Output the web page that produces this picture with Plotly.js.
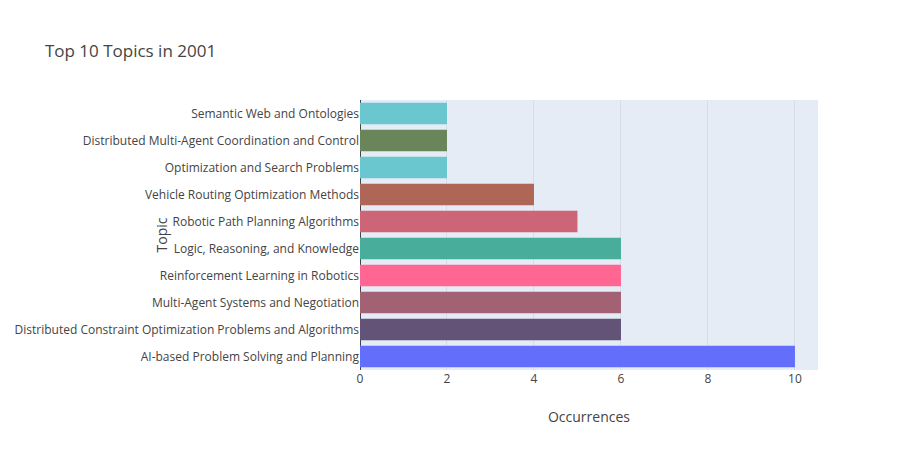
<!DOCTYPE html>
<html>
<head>
<meta charset="utf-8">
<script src="https://cdn.plot.ly/plotly-3.0.1.min.js"></script>
</head>
<body style="margin:0">
<div id="chart" style="width:898px;height:450px"></div>
<script>
const topics = [
    "AI-based Problem Solving and Planning",
    "Distributed Constraint Optimization Problems and Algorithms",
    "Multi-Agent Systems and Negotiation",
    "Reinforcement Learning in Robotics",
    "Logic, Reasoning, and Knowledge",
    "Robotic Path Planning Algorithms",
    "Vehicle Routing Optimization Methods",
    "Optimization and Search Problems",
    "Distributed Multi-Agent Coordination and Control",
    "Semantic Web and Ontologies"
];
const occurrences = [10, 6, 6, 6, 6, 5, 4, 2, 2, 2];
const barColors = ["#636efa", "#625377", "#a36273", "#ff6692", "#48ad9a",
    "#cc6677", "#b06657", "#6ac6cf", "#6b855a", "#6ac6cf"];

Plotly.newPlot("chart", [
    {
        type: "bar",
        orientation: "h",
        x: occurrences,
        y: topics,
        marker: { color: barColors },
    },
], {
    width: 898,
    height: 450,
    title: { text: "Top 10 Topics in 2001", x: 0.05, y: 0.9 },
    margin: { l: 360, r: 80, t: 100, b: 80 },
    xaxis: { title: { text: "Occurrences" }, range: [0, 10.53], dtick: 2 },
    yaxis: { title: { text: "Topic" } },
    plot_bgcolor: "#e5ecf6",
    showlegend: false,
}, { displayModeBar: false });
</script>
</body>
</html>
